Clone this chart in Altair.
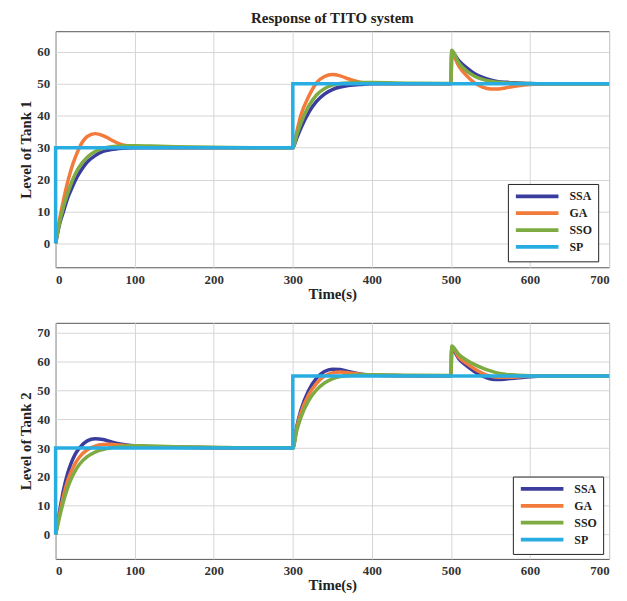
import altair as alt
import pandas as pd

# ---- data ----
T = [0, 5, 10, 15, 20, 25, 30, 40, 50, 60, 70, 80, 90, 100, 120, 150, 200, 250, 300,
     305, 310, 320, 330, 340, 350, 360, 370, 380, 390, 400, 450, 500, 501, 510, 520,
     530, 540, 550, 560, 570, 585, 600, 620, 650, 700]

# Tank 1
SSA1 = [0, 6, 10, 14, 17, 19.8, 22, 25.5, 27.5, 28.8, 29.4, 29.7, 29.9, 30, 30, 30, 30, 30, 30,
        33, 36, 41, 44.5, 46.8, 48.2, 49, 49.5, 49.7, 49.9, 50, 50, 50, 60, 57.3, 55,
        53.2, 52, 51.2, 50.7, 50.5, 50.3, 50.1, 50, 50, 50]
GA1 = [0, 7.5, 13.6, 19, 23.5, 27, 30, 33.5, 34.4, 33.8, 32.5, 31.3, 30.6, 30.3, 30.1, 30, 30, 30, 30,
       35, 40, 46, 50.3, 52.3, 52.9, 52.5, 51.6, 50.8, 50.3, 50.1, 50, 50, 59.5, 55.5, 52.5,
       50.3, 49, 48.4, 48.4, 48.8, 49.4, 49.8, 50, 50, 50]
SSO1 = [0, 6.5, 11.5, 15.5, 19, 21.8, 24, 27, 28.8, 29.8, 30.3, 30.5, 30.6, 30.6, 30.5, 30.3, 30.1, 30, 30,
        34, 37.5, 43, 46.5, 48.5, 49.6, 50.1, 50.3, 50.4, 50.4, 50.4, 50.2, 50.1, 60.5, 56.5, 54,
        52.4, 51.4, 50.8, 50.5, 50.3, 50.2, 50.1, 50, 50, 50]
SP_T = [0, 0, 300, 300, 700]
SP1 = [0, 30, 30, 50, 50]

# Tank 2
SSA2 = [0, 8, 15.5, 21, 25, 28, 30, 32.5, 33.2, 33, 32.2, 31.5, 31.1, 30.8, 30.5, 30.3, 30.1, 30, 30,
        37.5, 43, 50, 54.3, 56.6, 57.4, 57.3, 56.6, 56, 55.6, 55.4, 55.1, 55, 64.5, 61, 58.5,
        56.5, 55, 54, 53.8, 54, 54.4, 54.8, 55, 55, 55]
GA2 = [0, 7, 13.5, 18.5, 22, 24.8, 26.8, 29.4, 30.7, 31.2, 31.3, 31.1, 30.9, 30.7, 30.5, 30.3, 30.1, 30, 30,
       37, 42, 48.5, 52.5, 55, 56.1, 56.4, 56.2, 55.8, 55.5, 55.4, 55.1, 55, 65, 61.5, 59.3,
       57.5, 56, 55, 54.6, 54.6, 54.7, 55, 55, 55, 55]
SSO2 = [0, 6, 11.5, 16, 19.5, 22.2, 24.3, 27, 28.6, 29.5, 30.1, 30.5, 30.7, 30.8, 30.7, 30.5, 30.3, 30.1, 30.1,
        36, 40.5, 46.5, 50.2, 52.6, 54, 54.8, 55.2, 55.4, 55.5, 55.5, 55.3, 55.2, 65.5, 62.5, 60.5,
        59, 57.8, 56.8, 56, 55.6, 55.3, 55.1, 55, 55, 55]
SP2 = [0, 30, 30, 55, 55]

SERIES = ["SSA", "GA", "SSO", "SP"]
COLORS = ["#3b3d9e", "#f27a3a", "#7eab42", "#27ade2"]
X_TICKS = [0, 100, 200, 300, 400, 500, 600, 700]
Y1_TICKS = [0, 10, 20, 30, 40, 50, 60]
Y2_TICKS = [0, 10, 20, 30, 40, 50, 60, 70]

FONT = "Liberation Serif"


def build_df(ssa, ga, sso, sp):
    rows = []
    for name, ts, vs in [("SSA", T, ssa), ("GA", T, ga), ("SSO", T, sso), ("SP", SP_T, sp)]:
        for i, (t, v) in enumerate(zip(ts, vs)):
            rows.append({"series": name, "t": t, "v": v, "idx": i})
    return pd.DataFrame(rows)


def panel(df, ydom, yticks, ytitle, lx, ly, title=None):
    layers = []
    for s in SERIES:
        layers.append(
            alt.Chart(df[df.series == s])
            .mark_line(strokeWidth=3.5, interpolate="linear" if s == "SP" else "monotone")
            .encode(
                x=alt.X("t:Q", scale=alt.Scale(domain=[0, 700], nice=False),
                        axis=alt.Axis(values=X_TICKS, title="Time(s)", labelPadding=6,
                                      titlePadding=0)),
                y=alt.Y("v:Q", scale=alt.Scale(domain=ydom, nice=False, zero=False),
                        axis=alt.Axis(values=yticks, title=ytitle, labelPadding=6,
                                      titlePadding=3)),
                color=alt.Color("series:N",
                                scale=alt.Scale(domain=SERIES, range=COLORS),
                                legend=alt.Legend(title=None, orient="none",
                                                  legendX=lx, legendY=ly,
                                                  fillColor="white", strokeColor="#222",
                                                  padding=6, symbolType="M-1,0H8.6",
                                                  symbolSize=80, symbolStrokeWidth=3.8,
                                                  labelFont=FONT, labelFontWeight="bold",
                                                  labelFontSize=12, labelColor="#222",
                                                  rowPadding=0, labelOffset=43)),
                order="idx:Q",
            )
        )
    ch = alt.layer(*layers).properties(width=558, height=238)
    if title:
        ch = ch.properties(title=alt.TitleParams(title, anchor="middle", font=FONT,
                                                 fontSize=15, fontWeight="bold",
                                                 color="#222", offset=5))
    return ch


top = panel(build_df(SSA1, GA1, SSO1, SP1), [-7.5, 66.5], Y1_TICKS, "Level of Tank 1",
            456, 154, "Response of TITO system")
bottom = panel(build_df(SSA2, GA2, SSO2, SP2), [-8.5, 73.5], Y2_TICKS, "Level of Tank 2",
               461, 155)

chart = (
    alt.vconcat(top, bottom, spacing=20)
    .resolve_legend(color="independent")
    .properties(padding={"left": 10, "top": 0, "right": 2, "bottom": 0},
                background="white")
    .configure_view(stroke="#555", strokeWidth=1)
    .configure_axis(labelFont=FONT, labelFontWeight="bold", labelFontSize=13,
                    labelColor="#333", titleFont=FONT, titleFontWeight="bold",
                    titleFontSize=15, titleColor="#222", gridColor="#d6d6d6",
                    gridWidth=1, domain=False, ticks=False)
)

chart.save("out.html", embed_options={"renderer": "svg", "actions": False})
